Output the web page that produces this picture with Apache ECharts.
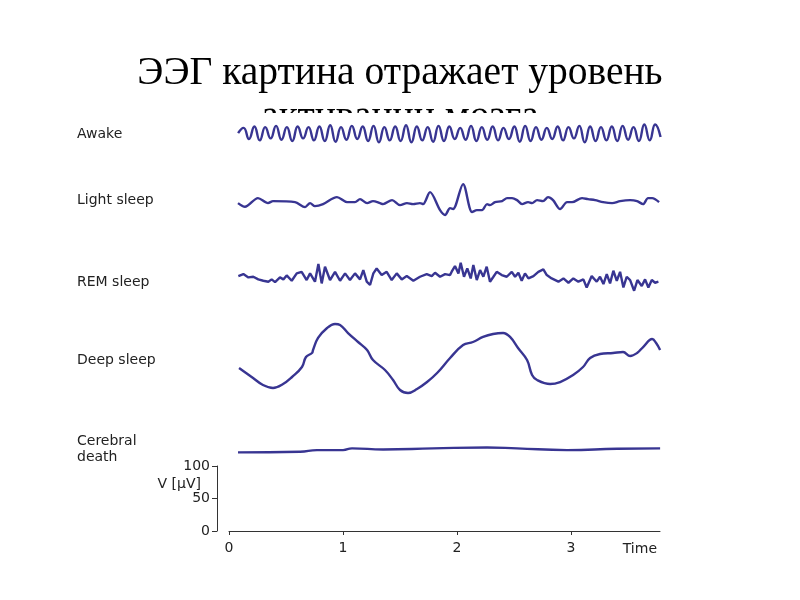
<!DOCTYPE html>
<html><head><meta charset="utf-8">
<script src="https://cdn.jsdelivr.net/npm/echarts@6/dist/echarts.min.js"></script>
<style>html,body{margin:0;padding:0;background:#fff}#c{width:800px;height:600px}</style>
</head><body><div id="c"></div>
<script>
// ---------- data ----------
const titleText = 'ЭЭГ картина отражает уровень\nактивации мозга';
const traceNames = ['Awake', 'Light sleep', 'REM sleep', 'Deep sleep', 'Cerebral\ndeath'];
const timeTicks = [0, 1, 2, 3];
const voltTicks = [0, 50, 100];

// Awake (alpha rhythm), sampled at successive peaks / troughs, µV
const awakeStart = 0.08, awakeStep = 0.0475;
const awakeValues = [0, 8, -9, 10, -11, 9, -8, 11, -10, 9,
  -12, 10, -8, 9, -11, 10, -12, 12, -13, 9,
  -10, 11, -9, 10, -12, 11, -14, 9, -11, 10,
  -12, 12, -14, 10, -11, 9, -13, 11, -12, 10,
  -9, 8, -10, 11, -12, 9, -10, 10, -11, 8,
  -9, 10, -13, 11, -12, 9, -10, 8, -9, 10,
  -11, 9, -8, 11, -14, 10, -12, 9, -11, 10,
  -12, 11, -10, 9, -12, 13, -11, 13, -6];

const lightTimes = [0.079, 0.140, 0.254, 0.342, 0.386, 0.579, 0.667, 0.711, 0.754, 0.825,
  0.947, 1.035, 1.105, 1.149, 1.211, 1.263, 1.325, 1.351, 1.430, 1.500,
  1.561, 1.614, 1.675, 1.702, 1.763, 1.851, 1.895, 1.939, 1.965, 2.053,
  2.132, 2.175, 2.219, 2.263, 2.289, 2.333, 2.395, 2.439, 2.482, 2.526,
  2.570, 2.623, 2.658, 2.702, 2.754, 2.798, 2.842, 2.904, 2.965, 3.009,
  3.096, 3.149, 3.211, 3.281, 3.360, 3.430, 3.518, 3.579, 3.632, 3.675,
  3.711, 3.772];
const lightValues = [0, -5.6, 7.6, 0, 3, 1.5, -6, 0, -4.5, -1.5,
  9, 1.5, 1.5, 6, 0, 3, 0, -1.5, 4.5, -3,
  0, -1.5, 0, -1.5, 16.7, -10.6, -18, -7.6, -9, 28.8,
  -13.6, -10.6, -10.6, -1.5, -3, 1.5, 3, 7.6, 7.6, 4.5,
  -1.5, 1.5, 0, 4.5, 3, 9, 4.5, -9, 1.5, 1.5,
  7.6, 6, 4.5, 1.5, 0, 3, 4.5, 3, -1.5, 7.6,
  7.6, 1.5];

const remTimes = [0.082, 0.126, 0.170, 0.213, 0.257, 0.301, 0.345, 0.374, 0.404, 0.447,
  0.477, 0.506, 0.550, 0.594, 0.637, 0.681, 0.711, 0.754, 0.784, 0.813,
  0.842, 0.886, 0.930, 0.974, 1.018, 1.061, 1.105, 1.149, 1.178, 1.208,
  1.237, 1.266, 1.295, 1.339, 1.383, 1.427, 1.471, 1.515, 1.559, 1.617,
  1.675, 1.734, 1.778, 1.807, 1.851, 1.895, 1.939, 1.953, 1.982, 2.012,
  2.032, 2.061, 2.090, 2.120, 2.143, 2.173, 2.202, 2.231, 2.260, 2.289,
  2.319, 2.348, 2.392, 2.436, 2.480, 2.509, 2.538, 2.567, 2.596, 2.626,
  2.670, 2.713, 2.757, 2.787, 2.830, 2.889, 2.933, 2.977, 3.020, 3.064,
  3.108, 3.137, 3.181, 3.225, 3.254, 3.284, 3.313, 3.342, 3.371, 3.401,
  3.430, 3.459, 3.488, 3.518, 3.553, 3.582, 3.620, 3.649, 3.678, 3.708,
  3.737, 3.766];
const remValues = [1.5, 4.5, -0.5, 0.5, -3.5, -5.6, -7, -3.5, -7.6, -0.5,
  -3.5, 2.5, -5.6, 5.6, 8, -4.5, 5.6, -7, 19.7, -9.6,
  15.7, -4.5, 8, -5.6, 5.6, -4.5, 5.6, -3.5, 10.6, -7,
  -12, 5.6, 13, 3, 8, -4.5, 5.6, -3.5, 1.5, -5.6,
  0.5, 4.5, 1.5, 6.6, 0.5, 4.5, 3, 8.1, 16.7, 5.6,
  21.7, 0.5, 13.1, -2, 18.2, -4.5, 10.6, 0.5, 15.7, -7,
  0.5, 8, 3, 0.5, 8, 0.5, 6.6, -5.6, 5.6, -2,
  1.5, 8, 11.6, 3, -2, -7, -2, -8.6, -2, -7,
  -3.5, -15.7, 1.5, -7, 0.5, -10.6, 4.5, -9.6, 9.6, -5.6,
  8, -15.7, 0.5, -4.5, -20.7, -4.5, -13.6, -3.5, -15.7, -4.5,
  -8.6, -7];

const deepTimes = [0.088, 0.211, 0.298, 0.386, 0.474, 0.553, 0.640, 0.675, 0.728, 0.737,
  0.781, 0.860, 0.930, 0.974, 1.044, 1.132, 1.211, 1.263, 1.368, 1.439,
  1.500, 1.570, 1.649, 1.737, 1.825, 1.939, 2.053, 2.140, 2.228, 2.316,
  2.404, 2.465, 2.535, 2.614, 2.658, 2.702, 2.816, 2.904, 3.018, 3.105,
  3.167, 3.254, 3.368, 3.456, 3.518, 3.579, 3.632, 3.711, 3.746, 3.781];
const deepValues = [-19.7, -34.8, -45.5, -50, -44, -33.3, -18.2, -3, 3, 7.6,
  25.8, 40.9, 47, 45.5, 33.3, 19.7, 7.6, -7.6, -22.7, -37.9,
  -53, -57.6, -51.5, -40.9, -27.3, -4.5, 15.2, 19.7, 27.3, 31.8,
  33.3, 27.3, 10.6, -7.6, -30.3, -37.9, -44, -40.9, -30.3, -18.2,
  -4.5, 1.5, 3, 4.5, -1.5, 3, 12.1, 24.2, 18.2, 7.6];

const deathTimes = [0.079, 0.623, 0.772, 1.0, 1.079, 1.351, 1.789, 2.263, 2.526, 2.965, 3.404, 3.781];
const deathValues = [-3.5, -2.6, 0, 0, 2.6, 1, 2.6, 4, 2.6, 0, 2, 2.6];

// ---------- layout (not data) ----------
const rowBase = [495, 389, 277, 159, 15];         // vertical offset of each trace in the stacked panel
const labelY = [134, 200, 282, 360, 449];
const traceColor = '#383592';
const txt = '#222';
const sans = 'DejaVu Sans';

const awakeTimes = awakeValues.map((_, i) => awakeStart + i * awakeStep);
const traces = [
  [awakeTimes, awakeValues, 0.5],
  [lightTimes, lightValues, 0.3],
  [remTimes, remValues, 0],
  [deepTimes, deepValues, 0.4],
  [deathTimes, deathValues, 0.5]
];

const series = traces.map((tr, k) => ({
  name: traceNames[k],
  type: 'line',
  xAxisIndex: 0, yAxisIndex: 0,
  showSymbol: false,
  smooth: tr[2],
  lineStyle: { color: traceColor, width: 2.4 },
  data: tr[0].map((t, i) => [t, tr[1][i] + rowBase[k]])
}));

const chart = echarts.init(document.getElementById('c'));
chart.setOption({
  animation: false,
  backgroundColor: '#fff',
  title: {
    text: titleText, left: 'center', top: 47, z: 0,
    textStyle: { fontFamily: 'Liberation Serif', fontSize: 39.5, fontWeight: 'normal', color: '#000', lineHeight: 44 }
  },
  graphic: [
    { type: 'rect', z: 1, shape: { x: 150, y: 113, width: 500, height: 30 }, style: { fill: '#fff' } }
  ].concat(traceNames.map((n, k) => ({
    type: 'text', z: 3, x: 77, y: labelY[k],
    style: { text: n, font: '14px ' + sans, fill: txt, verticalAlign: 'middle', align: 'left', lineHeight: 16 }
  }))),
  grid: [
    { left: 229, right: 140, top: 110, bottom: 140 },
    { left: 229, right: 140, top: 466, bottom: 69 }
  ],
  xAxis: [
    { gridIndex: 0, type: 'value', min: 0, max: 3.78, show: false },
    {
      gridIndex: 1, type: 'value', min: 0, max: 3.78, interval: 1,
      axisLine: { show: true, onZero: false, lineStyle: { color: '#333', width: 1 } },
      axisTick: { show: true, customValues: timeTicks, length: 4, lineStyle: { color: '#333' } },
      axisLabel: { customValues: timeTicks, fontFamily: sans, fontSize: 14, color: txt, margin: 10 },
      splitLine: { show: false },
      name: 'Time', nameLocation: 'end', nameGap: -3, nameMoveOverlap: false,
      nameTextStyle: { fontFamily: sans, fontSize: 14, color: txt, align: 'right', verticalAlign: 'top', padding: [11, 0, 0, 0] }
    }
  ],
  yAxis: [
    { gridIndex: 0, type: 'value', min: 0, max: 530, show: false },
    {
      gridIndex: 1, type: 'value', min: 0, max: 100, interval: 50, offset: 12,
      axisLine: { show: true, onZero: false, lineStyle: { color: '#333', width: 1 } },
      axisTick: { show: true, length: 5, lineStyle: { color: '#333' } },
      axisLabel: { customValues: voltTicks, fontFamily: sans, fontSize: 14, color: txt, margin: 7 },
      splitLine: { show: false },
      name: 'V [µV]', nameLocation: 'middle', nameRotate: 0, nameGap: 16, nameMoveOverlap: false,
      nameTextStyle: { fontFamily: sans, fontSize: 14, color: txt, align: 'right', verticalAlign: 'bottom', padding: [0, 0, 7, 0] }
    }
  ],
  series: series
});
</script>
</body></html>
